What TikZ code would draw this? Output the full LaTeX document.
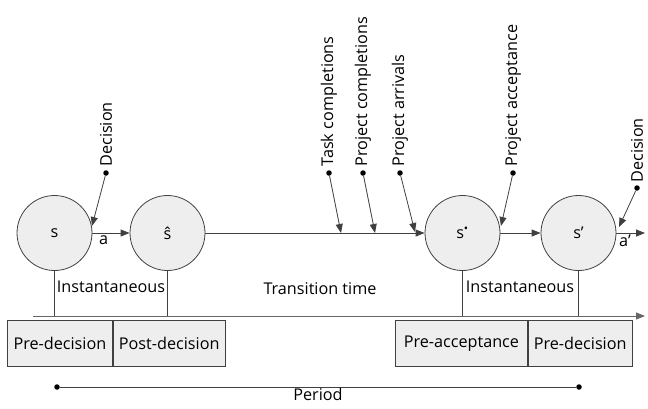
\documentclass[tikz,border=0pt]{standalone}
\usepackage{fontspec}
\setmainfont{Open Sans}
\usetikzlibrary{positioning, arrows.meta}
\definecolor{linegray}{RGB}{64,64,64}
\definecolor{fillgray}{RGB}{238,238,238}

\begin{document}
\begin{tikzpicture}[x=1pt, y=1pt, node distance=113pt, on grid, line width=0.8pt,
    font=\fontsize{16.2}{19}\selectfont,
    st/.style={circle, draw=linegray, fill=fillgray, minimum size=75pt, inner sep=0pt},
    phase/.style={draw=linegray, fill=fillgray, minimum height=46pt, inner sep=0pt, anchor=north west},
    tip/.style={draw=linegray, -{Triangle[length=9pt,width=7pt]}},
    pindot/.style={circle, fill=black, inner sep=0pt, minimum size=5.5pt},
    evt/.style={rotate=90, anchor=west, inner sep=3pt}]
    \useasboundingbox (0,0) rectangle (648,-408);

    % states
    \node[st] (s) at (54.5,-233) {s};
    \node[st] (shat) [right=113pt of s] {\^s};
    \node[st] (sstar) [right=295pt of shat] {s\textsuperscript{\textbullet}};
    \node[st] (sprime) [right=116pt of sstar] {s’};
    \coordinate (tend) at (645,-233);

    \draw[tip] (s) -- node[pos=0.3, below, inner sep=2pt, text=black] {a} (shat);
    \draw[tip] (shat) -- (sstar);
    \draw[tip] (sstar) -- (sprime);
    \draw[tip] (sprime) -- node[pos=0.3, below, inner sep=2pt, text=black] {a’} (tend);

    % events
    \node[pindot] (dec) at (106,-173) {};
    \node[evt] at (dec.north) {Decision};
    \coordinate (dect) at (92,-226);
    \draw[tip] (dec) -- (dect);

    \node[pindot] (task) at (329,-173) {};
    \node[evt] at (task.north) {Task completions};
    \coordinate (taskt) at (341,-233);
    \draw[tip] (task) -- (taskt);

    \node[pindot] (pcomp) at (363,-173) {};
    \node[evt] at (pcomp.north) {Project completions};
    \coordinate (pcompt) at (375,-233);
    \draw[tip] (pcomp) -- (pcompt);

    \node[pindot] (parr) at (400,-173) {};
    \node[evt] at (parr.north) {Project arrivals};
    \coordinate (parrt) at (415,-232);
    \draw[tip] (parr) -- (parrt);

    \node[pindot] (pacc) at (513,-173) {};
    \node[evt] at (pacc.north) {Project acceptance};
    \coordinate (pacct) at (501,-226);
    \draw[tip] (pacc) -- (pacct);

    \node[pindot] (dec2) at (637,-188) {};
    \node[evt, xshift=-1pt] at (dec2.north) {Decision};
    \coordinate (dec2t) at (619,-227);
    \draw[tip] (dec2) -- (dec2t);

    % time line
    \coordinate (t0) at (33,-316);
    \coordinate (t1) at (645,-316);
    \draw[tip, draw=gray!80!black] (t0) -- (t1);
    \draw[linegray] (s.south) -- (s.south |- t0);
    \draw[linegray] (shat.south) -- (shat.south |- t0);
    \draw[linegray] (sstar.south) -- (sstar.south |- t0);
    \draw[linegray] (sprime.south) -- (sprime.south |- t0);

    \node at (111,-287) {Instantaneous};
    \node at (320,-289) {Transition time};
    \node at (520,-287) {Instantaneous};

    % phases
    \node[phase, minimum width=105pt] (pred1) at (7,-320) {Pre-decision};
    \node[phase, minimum width=112pt] (postd) at (pred1.north east) {Post-decision};
    \node[phase, minimum width=132pt] (preacc) at (395,-320) {Pre-acceptance};
    \node[phase, minimum width=104pt] (pred2) at (preacc.north east) {Pre-decision};

    % period
    \node[pindot] (per0) at (57,-387) {};
    \node[pindot] (per1) at (579,-387) {};
    \draw[linegray] (per0) -- node[below, inner sep=1pt, text=black] {Period} (per1);
\end{tikzpicture}
\end{document}
